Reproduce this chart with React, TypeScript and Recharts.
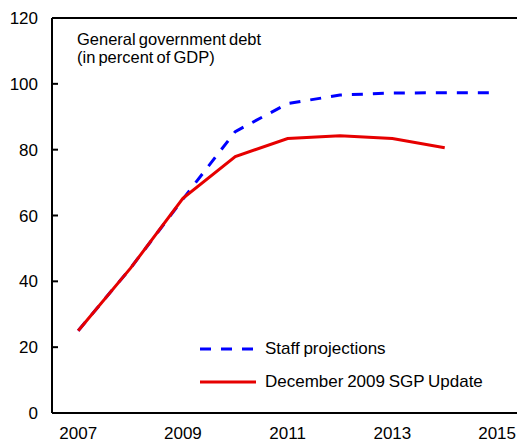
import { LineChart, Line, XAxis, YAxis, ReferenceLine, Legend } from "recharts";

const years = [2007, 2008, 2009, 2010, 2011, 2012, 2013, 2014, 2015];
const staffProjections = [25, 44, 65, 85.5, 94, 96.6, 97.2, 97.3, 97.3];
const sgpUpdate = [25, 44, 65.2, 77.9, 83.4, 84.2, 83.4, 80.6, null];
const xTicks = [2007, 2009, 2011, 2013, 2015];
const yTicks = [0, 20, 40, 60, 80, 100, 120];

const FONT = '"Liberation Sans", Arial, sans-serif';

const data = years.map((year, i) => ({
  year,
  staff: staffProjections[i],
  sgp: sgpUpdate[i],
}));

function YTick(props: any) {
  const { x, y, payload } = props;
  return (
    <g>
      <line x1={x} y1={y} x2={x + 6} y2={y} stroke="#000" strokeWidth={2} />
      <text x={x - 14} y={y} dy="0.36em" textAnchor="end" fontSize={17} fontFamily={FONT} fill="#000">
        {payload.value}
      </text>
    </g>
  );
}

function XTick(props: any) {
  const { x, y, payload } = props;
  return (
    <text x={x} y={y} dy={26} textAnchor="middle" fontSize={17} fontFamily={FONT} fill="#000">
      {payload.value}
    </text>
  );
}

function LegendBox() {
  const rows = [
    { label: "Staff projections", color: "#0000ff", dash: "11 10" },
    { label: "December 2009 SGP Update", color: "#e60000", dash: undefined },
  ];
  return (
    <div style={{ fontFamily: FONT, fontSize: 17, color: "#000" }}>
      {rows.map((r) => (
        <div key={r.label} style={{ display: "flex", alignItems: "center", height: 26, marginBottom: 7 }}>
          <svg width={56} height={6} style={{ marginRight: 9 }}>
            <line x1={0} y1={3} x2={56} y2={3} stroke={r.color} strokeWidth={3} strokeDasharray={r.dash} />
          </svg>
          <span style={{ whiteSpace: "nowrap", wordSpacing: -1 }}>{r.label}</span>
        </div>
      ))}
    </div>
  );
}

export default function App() {
  return (
    <div style={{ position: "absolute", left: 0, top: 0, width: 517, height: 443, background: "#fff" }}>
      <LineChart width={517} height={443} data={data} margin={{ top: 18, right: 0, bottom: 0, left: 0 }}>
        <XAxis
          dataKey="year"
          type="number"
          domain={[2006.5, 2015.38]}
          ticks={xTicks}
          allowDataOverflow
          height={30}
          tickLine={false}
          tickSize={0}
          tickMargin={0}
          axisLine={{ stroke: "#000", strokeWidth: 2 }}
          tick={<XTick />}
        />
        <YAxis
          domain={[0, 120]}
          ticks={yTicks}
          width={52}
          tickLine={false}
          tickSize={0}
          tickMargin={0}
          axisLine={{ stroke: "#000", strokeWidth: 2 }}
          tick={<YTick />}
        />
        <ReferenceLine y={120} stroke="#000" strokeWidth={2} />
        <Legend
          verticalAlign="middle"
          layout="horizontal"
          content={<LegendBox />}
          wrapperStyle={{ position: "absolute", left: 200, top: 336, width: "auto" }}
        />
        <Line
          dataKey="staff"
          stroke="#0000ff"
          strokeWidth={3}
          strokeDasharray="11 10"
          dot={false}
          activeDot={false}
          isAnimationActive={false}
        />
        <Line
          dataKey="sgp"
          stroke="#e60000"
          strokeWidth={3}
          dot={false}
          activeDot={false}
          connectNulls={false}
          isAnimationActive={false}
        />
      </LineChart>
      <div
        style={{
          position: "absolute",
          left: 77,
          top: 30,
          fontFamily: FONT,
          fontSize: 16.5,
          lineHeight: "18px",
          wordSpacing: -1.5,
          color: "#000",
        }}
      >
        General government debt
        <br />
        (in percent of GDP)
      </div>
    </div>
  );
}
